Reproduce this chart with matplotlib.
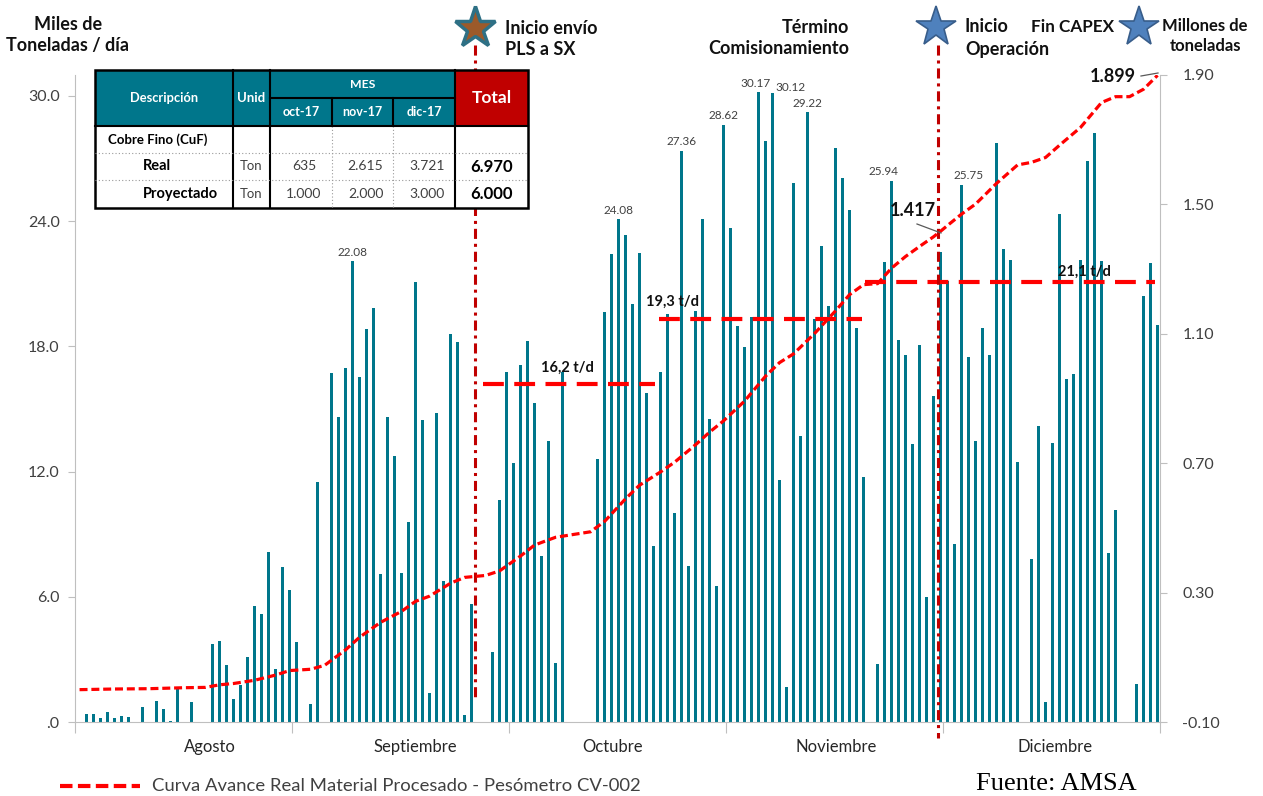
import numpy as np
import matplotlib.pyplot as plt
from matplotlib.patches import Rectangle
from matplotlib.transforms import blended_transform_factory

plt.rcParams['font.family'] = ['Lato', 'DejaVu Sans']

# miles de toneladas procesadas por dia, 1-ago a fin de dic (155 posiciones)
toneladas = [
    0, 0.40, 0.40, 0.19, 0.49, 0.19, 0.30, 0.23, 0, 0.72,
    0, 1.01, 0.64, 0.07, 1.60, 0, 0.94, 0, 0, 3.75,
    3.88, 2.75, 1.10, 1.76, 3.11, 5.56, 5.19, 8.15, 2.52, 7.44,
    6.34, 3.85, 0, 0.86, 11.51, 0, 16.71, 14.63, 16.96, 22.08,
    16.55, 18.85, 19.82, 7.08, 14.63, 12.73, 7.12, 9.58, 21.10, 14.45,
    1.37, 14.82, 6.74, 18.59, 18.19, 0.35, 5.64, 0, 0, 3.34,
    10.64, 16.76, 12.40, 17.12, 18.27, 15.27, 7.93, 13.48, 2.81, 16.75,
    0, 0, 0, 0, 12.60, 19.63, 22.40, 24.08, 23.34, 20.03,
    22.45, 15.78, 8.44, 16.75, 19.56, 10.03, 27.36, 7.46, 19.70, 24.09,
    14.50, 6.50, 28.62, 23.66, 18.95, 17.99, 19.42, 30.17, 27.83, 30.12,
    11.61, 1.69, 25.82, 13.70, 29.22, 19.29, 22.83, 19.91, 27.49, 26.06,
    24.53, 18.90, 11.75, 0, 2.78, 22.03, 25.94, 18.30, 17.59, 13.32,
    18.06, 5.99, 15.62, 22.53, 21.12, 8.54, 25.75, 17.51, 13.45, 18.87,
    17.58, 27.75, 22.67, 22.14, 12.46, 0, 7.79, 14.18, 0.97, 13.36,
    24.35, 16.43, 16.67, 22.14, 26.87, 28.22, 22.09, 8.09, 10.15, 0,
    0, 1.81, 20.41, 21.99, 19.00,
]
dias = np.arange(len(toneladas))

meses = ['Agosto', 'Septiembre', 'Octubre', 'Noviembre', 'Diciembre']
mes_pos = [18.6, 47.9, 76.2, 108.1, 139.4]

# dias con etiqueta de valor
etiquetas = [39, 77, 86, 92, 97, 99, 104, 116, 126]

# curva de avance acumulado (millones de toneladas)
curva_dia = [0, 5, 10, 15, 18, 20, 22, 25, 28, 30, 33, 35, 38, 40, 43, 46, 48, 50, 53, 55,
             58, 60, 63, 65, 68, 73, 75, 78, 80, 83, 85, 88, 90, 92, 95, 98, 100, 102, 105, 108,
             110, 112, 114, 116, 118, 120, 122, 123, 124, 126, 128, 131, 134, 136, 138, 140,
             143, 146, 148, 150, 152, 154]
curva_mt = [0.000, 0.002, 0.003, 0.006, 0.007, 0.015, 0.019, 0.029, 0.045, 0.059,
            0.063, 0.075, 0.123, 0.162, 0.208, 0.242, 0.273, 0.289, 0.329, 0.347,
            0.353, 0.367, 0.413, 0.447, 0.471, 0.488, 0.520, 0.590, 0.632, 0.673,
            0.703, 0.757, 0.796, 0.831, 0.892, 0.969, 1.011, 1.038, 1.101, 1.171,
            1.221, 1.252, 1.255, 1.303, 1.339, 1.370, 1.400, 1.417, 1.435, 1.470,
            1.501, 1.565, 1.622, 1.630, 1.645, 1.683, 1.738, 1.815, 1.833, 1.833,
            1.856, 1.899]

# promedios por tramo (t/d)
prom_valor = [16.2, 19.3, 21.1]
prom_desde = [57.6, 82.8, 112.2]
prom_hasta = [82.2, 111.8, 153.6]

hito_pls = 56.5
hito_operacion = 122.6

# tabla resumen cobre fino
tabla_meses = ['oct-17', 'nov-17', 'dic-17']
real_ton = [635, 2615, 3721]
real_total = 6970
proy_ton = [1000, 2000, 3000]
proy_total = 6000

TEAL = '#00768b'
GRIS = '#404040'
EJE = '#bfbfbf'


def miles(v):
    return f'{v:,}'.replace(',', '.')


fig = plt.figure(figsize=(12.63, 7.96), dpi=100)
ax = fig.add_axes([75 / 1263, 74 / 796, 1085 / 1263, 647 / 796])

ax.bar(dias, toneladas, width=0.48, color=TEAL, zorder=2)
ax.set_xlim(-0.65, 154.35)
ax.set_ylim(0, 31.0)

ax.set_yticks([0, 6, 12, 18, 24, 30])
ax.set_yticklabels(['.0', '6.0', '12.0', '18.0', '24.0', '30.0'])
ax.set_xticks([-0.65 + 31 * k for k in range(6)])
ax.set_xticklabels([])
ax.tick_params(axis='y', direction='out', length=5, color=EJE, labelsize=11.5,
               labelcolor=GRIS, pad=6)
ax.tick_params(axis='x', direction='out', length=8, color=EJE)
for side in ['top', 'right']:
    ax.spines[side].set_visible(False)
ax.spines['left'].set_color(EJE)
ax.spines['bottom'].set_color(EJE)

dx = {97: -2, 99: 13, 116: -6, 126: 5}
dy = {99: 0.5}
for s in etiquetas:
    ax.annotate(f'{toneladas[s]:.2f}', (s, toneladas[s]),
                xytext=(dx.get(s, 0), dy.get(s, 2.5)),
                textcoords='offset points', ha='center', va='bottom', fontsize=8.5,
                color=GRIS)

# promedios
for v, a, b in zip(prom_valor, prom_desde, prom_hasta):
    ax.plot([a, b], [v, v], color='#ff0000', lw=3, dashes=(5, 2.5), zorder=3)
lab_pos = [(65.9, 16.96), (80.9, 20.12), (139.8, 21.56)]
for v, (x, y) in zip(prom_valor, lab_pos):
    ax.text(x, y, f'{v:.1f}'.replace('.', ',') + ' t/d', fontsize=10.5,
            fontweight='bold', va='center', ha='left', color='#111111', zorder=4)

# meses
tr = blended_transform_factory(ax.transData, fig.transFigure)
for m, p in zip(meses, mes_pos):
    ax.text(p, 1 - 747 / 796, m, transform=tr, ha='center', va='center',
            fontsize=12, color='#262626')

# hitos
dash_dot = (3.3, 1.6, 1, 1.6)
ax.plot([hito_pls, hito_pls], [1 - 45 / 796, 1 - 697 / 796], transform=tr,
        color='#c00000', lw=2.2, dashes=dash_dot, clip_on=False, zorder=3)
ax.plot([hito_operacion, hito_operacion], [1 - 45 / 796, 1 - 738 / 796], transform=tr,
        color='#c00000', lw=2.2, dashes=dash_dot, clip_on=False, zorder=3)

# eje derecho: curva acumulada
ax2 = ax.twinx()
ax2.set_ylim(-0.1, 1.9)
ax2.plot(curva_dia, curva_mt, color='#ff0000', lw=2.3, dashes=(2.5, 1.2))
ax2.set_yticks([-0.1, 0.3, 0.7, 1.1, 1.5, 1.9])
ax2.set_yticklabels(['-0.10', '0.30', '0.70', '1.10', '1.50', '1.90'])
ax2.tick_params(axis='y', direction='out', length=5, color=EJE, labelsize=11.5,
                labelcolor=GRIS, pad=11)
for side in ['top', 'left', 'bottom']:
    ax2.spines[side].set_visible(False)
ax2.spines['right'].set_color(EJE)

# capa en pixeles para textos, estrellas y tabla
ov = fig.add_axes([0, 0, 1, 1])
ov.set_xlim(0, 1263)
ov.set_ylim(796, 0)
ov.axis('off')

titulo = dict(fontsize=13, fontweight='bold', color='#111111', linespacing=1.3)
ov.text(68, 35, 'Miles de\nToneladas / día', ha='center', va='center', **titulo)
ov.text(505, 39, 'Inicio envío\nPLS a SX', ha='left', va='center', **titulo)
ov.text(849, 38, 'Término\nComisionamiento', ha='right', va='center', **titulo)
ov.text(965, 27, 'Inicio', ha='left', va='center', **titulo)
ov.text(965, 50, 'Operación', ha='left', va='center', **titulo)
ov.text(1031, 27, 'Fin CAPEX', ha='left', va='center', fontsize=12.3,
        fontweight='bold', color='#111111')
ov.text(1205, 36, 'Millones de\ntoneladas', ha='center', va='center',
        fontsize=12, fontweight='bold', color='#111111', linespacing=1.3)

ov.plot(475, 28, marker='*', ms=31, mfc='#9c5a2a', mec='#2e7085', mew=2.5)
ov.plot(936, 27, marker='*', ms=30, mfc='#4f81bd', mec='#385d8a', mew=1.2)
ov.plot(1139, 27, marker='*', ms=30, mfc='#4f81bd', mec='#385d8a', mew=1.2)

# valores de la curva
ov.text(913, 210, miles(1417), ha='center', va='center', fontsize=13,
        fontweight='bold', color='#111111')
ov.plot([917, 941], [224, 233], color='#595959', lw=0.9)
ov.text(1136, 77, miles(1899), ha='right', va='center', fontsize=13,
        fontweight='bold', color='#111111')
ov.plot([1141, 1158], [76, 73], color='#595959', lw=0.9)

# tabla
cx = [95, 233, 270, 332, 393, 455, 528]
ry = [70, 98, 126, 153, 180, 208]
ov.add_patch(Rectangle((cx[0], ry[0]), cx[5] - cx[0], ry[2] - ry[0], fc=TEAL, ec='none'))
ov.add_patch(Rectangle((cx[5], ry[0]), cx[6] - cx[5], ry[2] - ry[0], fc='#c00000', ec='none'))
ov.add_patch(Rectangle((cx[0], ry[2]), cx[6] - cx[0], ry[5] - ry[2], fc='white', ec='none'))
k = dict(color='black', lw=1.5)
for x in [cx[1], cx[2], cx[5]]:
    ov.plot([x, x], [ry[0], ry[5]], **k)
for x in [cx[3], cx[4]]:
    ov.plot([x, x], [ry[1], ry[2]], **k)
    ov.plot([x, x], [ry[2], ry[5]], color='#9a9a9a', lw=0.8, ls=(0, (1, 2)))
ov.plot([cx[2], cx[5]], [ry[1], ry[1]], **k)
ov.plot([cx[0], cx[6]], [ry[2], ry[2]], **k)
for y in [ry[3], ry[4]]:
    ov.plot([cx[0], cx[6]], [y, y], color='#9a9a9a', lw=0.8, ls=(0, (1, 2)))
ov.add_patch(Rectangle((cx[0], ry[0]), cx[6] - cx[0], ry[5] - ry[0], fc='none',
                       ec='black', lw=1.8))

hdr = dict(color='white', fontweight='bold', ha='center', va='center')
ov.text((cx[0] + cx[1]) / 2, 98, 'Descripción', fontsize=9.3, **hdr)
ov.text((cx[1] + cx[2]) / 2, 98, 'Unid', fontsize=9.5, **hdr)
ov.text((cx[2] + cx[5]) / 2, 84, 'MES', fontsize=8.8, **hdr)
for i, m in enumerate(tabla_meses):
    ov.text((cx[2 + i] + cx[3 + i]) / 2, 112, m, fontsize=9, **hdr)
ov.text((cx[5] + cx[6]) / 2, 98, 'Total', fontsize=12.5, **hdr)

ov.text(108, 139.5, 'Cobre Fino (CuF)', fontsize=9.5, fontweight='bold', va='center')
filas = [('Real', real_ton, real_total, 166.5), ('Proyectado', proy_ton, proy_total, 194)]
for nombre, vals, tot, y in filas:
    ov.text(143, y, nombre, fontsize=10.5, fontweight='bold', va='center')
    ov.text((cx[1] + cx[2]) / 2, y, 'Ton', fontsize=9.5, color=GRIS, ha='center', va='center')
    for i, v in enumerate(vals):
        ov.text((cx[2 + i] + cx[3 + i]) / 2 + 3, y, miles(v), fontsize=10, color=GRIS,
                ha='center', va='center')
    ov.text((cx[5] + cx[6]) / 2, y, miles(tot), fontsize=12, fontweight='bold',
            ha='center', va='center')

# leyenda y fuente
ov.plot([60, 140], [786, 786], color='#ff0000', lw=3, dashes=(3, 1.3))
ov.text(152, 786, 'Curva Avance Real Material Procesado - Pesómetro CV-002',
        fontsize=13.3, color=GRIS, va='center', ha='left')
ov.text(976, 784, 'Fuente: AMSA', fontsize=19, family='Liberation Serif',
        va='center', ha='left', color='black')

fig.savefig('out.png', dpi=100)
